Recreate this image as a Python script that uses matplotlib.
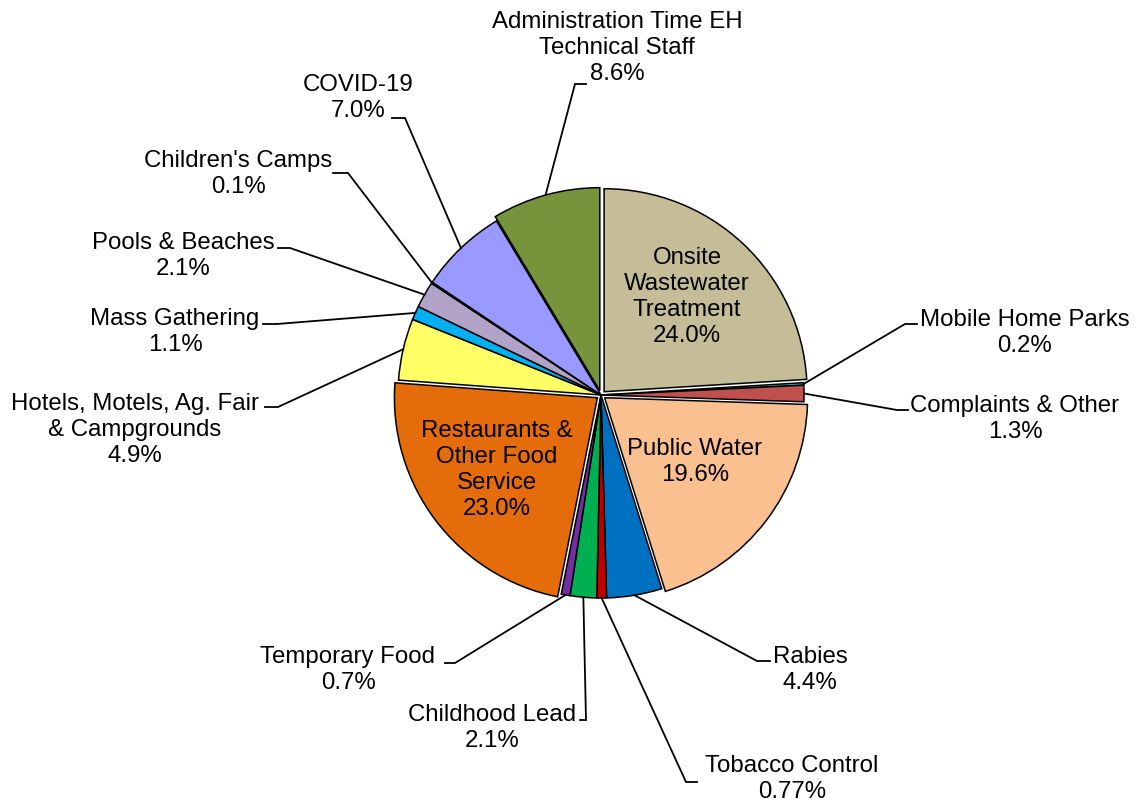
import matplotlib.pyplot as plt
import numpy as np

plt.rcParams['font.family'] = ['Liberation Sans', 'DejaVu Sans']

# slices, clockwise from 12 o'clock
names = ["Onsite\nWastewater\nTreatment", "Mobile Home Parks", "Complaints & Other",
         "Public Water", "Rabies", "Tobacco Control", "Childhood Lead",
         "Temporary Food", "Restaurants &\nOther Food\nService",
         "Hotels, Motels, Ag. Fair\n& Campgrounds", "Mass Gathering",
         "Pools & Beaches", "Children's Camps", "COVID-19",
         "Administration Time EH\nTechnical Staff"]
values = [24.0, 0.2, 1.3, 19.6, 4.4, 0.77, 2.1, 0.7, 23.0, 4.9, 1.1, 2.1, 0.1, 7.0, 8.6]
pct_text = ["24.0%", "0.2%", "1.3%", "19.6%", "4.4%", "0.77%", "2.1%", "0.7%",
            "23.0%", "4.9%", "1.1%", "2.1%", "0.1%", "7.0%", "8.6%"]
colors = ["#C4BD97", "#4BACC6", "#C0504D", "#FAC090", "#0070C0", "#C00000",
          "#00B050", "#7030A0", "#E46C0A", "#FFFF66", "#00B0F0", "#B3A2C7",
          "#262626", "#9999FF", "#77933C"]

W, H = 1137, 806
fig = plt.figure(figsize=(W / 100, H / 100), dpi=100)
ax = fig.add_axes([0, 0, 1, 1])

cx, cy, R = 601, H - 395, 203
off = 4.5  # explode offset in px (pie uses data units here)
explode = [off, 0, 0, off, 0, 0, 0, 0, off, 0, 0, 0, 0, 0, off]
wedges, _ = ax.pie(values, colors=colors, explode=explode, startangle=90,
                   counterclock=False, radius=R, center=(cx, cy),
                   wedgeprops=dict(edgecolor='black', linewidth=1.1))
ax.set_xlim(0, W)
ax.set_ylim(0, H)
ax.set_aspect('equal')
ax.axis('off')

fs = 17.3
ls = 1.25

# labels inside the big slices: index -> (x, y of text centre in image px)
inside = {0: (687, 297), 3: (695, 462), 8: (497, 470)}
for i, (x, y) in inside.items():
    ax.text(x, H - y, names[i] + "\n" + pct_text[i], ha='center', va='center',
            fontsize=fs, linespacing=ls)

# outside labels: index -> (text centre x, text centre y, elbow x, elbow y, tail x)
outside = {
    14: (617, 48, 575, 84, 586),
    13: (358, 98, 405, 118, 392),
    12: (238, 174, 348, 173, 333),
    11: (183, 256, 290, 248, 278),
    10: (175, 332, 277, 324, 263),
    9: (135, 430, 278, 407, 265),
    1: (1025, 333, 905, 324, 917),
    2: (1015, 419, 897, 410, 908),
    4: (810, 670, 757, 661, 770),
    5: (792, 779, 686, 782, 697),
    6: (492, 728, 586, 720, 580),
    7: (348, 670, 455, 663, 445),
}
for i, (tx, ty, ex, ey, hx) in outside.items():
    w = wedges[i]
    ang = np.deg2rad((w.theta1 + w.theta2) / 2)
    sx = w.center[0] + w.r * np.cos(ang)
    sy = w.center[1] + w.r * np.sin(ang)
    ax.plot([sx, ex, hx], [sy, H - ey, H - ey], color='black', lw=1.3,
            solid_joinstyle='miter')
    ax.text(tx, H - ty, names[i] + "\n" + pct_text[i], ha='center', va='center',
            fontsize=fs, linespacing=ls)

fig.savefig("out.png", dpi=100)
